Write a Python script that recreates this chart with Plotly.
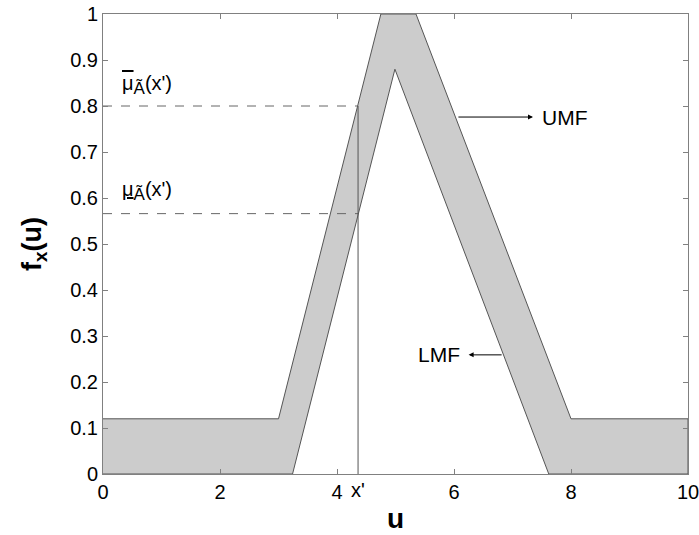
import plotly.graph_objects as go

# Upper membership function (UMF) vertices
umf_x = [0, 3.0, 4.75, 5.35, 8.0, 10]
umf_y = [0.12, 0.12, 1.0, 1.0, 0.12, 0.12]
# Lower membership function (LMF) vertices
lmf_x = [0, 3.24, 4.99, 7.62, 10]
lmf_y = [0, 0, 0.88, 0, 0]

x_prime = 4.36
mu_upper = 0.80
mu_lower = 0.566

x_tickvals = [0, 2, 4, 6, 8, 10]
y_tickvals = [0, 0.1, 0.2, 0.3, 0.4, 0.5, 0.6, 0.7, 0.8, 0.9, 1.0]

FONT = "Liberation Sans, Arial, sans-serif"
EDGE = "#555555"

fig = go.Figure()

poly_x = umf_x + lmf_x[::-1]
poly_y = umf_y + lmf_y[::-1]
fig.add_trace(go.Scatter(x=poly_x, y=poly_y, fill="toself", fillcolor="#cccccc",
                         line=dict(color=EDGE, width=1), mode="lines",
                         hoverinfo="skip", showlegend=False))

# dashed guides
fig.add_trace(go.Scatter(x=[0, x_prime], y=[mu_upper, mu_upper], mode="lines",
                         line=dict(color="#666666", width=1, dash="dash"), showlegend=False))
fig.add_trace(go.Scatter(x=[0, x_prime], y=[mu_lower, mu_lower], mode="lines",
                         line=dict(color="#666666", width=1, dash="dash"), showlegend=False))
# vertical line at x'
fig.add_trace(go.Scatter(x=[x_prime, x_prime], y=[0, mu_upper], mode="lines",
                         line=dict(color="#555555", width=1), showlegend=False))

SUB = "<sub><span style='font-size:17px'>Ã</span></sub>"
annotations = [
    dict(x=0.29, y=0.845, xref="x", yref="y",
         text="<span style='text-decoration:overline'>μ</span>" + SUB + "(x')", showarrow=False,
         xanchor="left", yanchor="middle", font=dict(family=FONT, size=20, color="black")),
    dict(x=0.29, y=0.615, xref="x", yref="y",
         text="<span style='text-decoration:underline'>μ</span>" + SUB + "(x')", showarrow=False,
         xanchor="left", yanchor="middle", font=dict(family=FONT, size=20, color="black")),
    dict(x=7.35, y=0.776, ax=6.05, ay=0.776, xref="x", yref="y", axref="x", ayref="y",
         text="", showarrow=True, arrowhead=2, arrowsize=1, arrowwidth=1, arrowcolor="black"),
    dict(x=7.47, y=0.776, xref="x", yref="y", text="UMF", showarrow=False, xanchor="left",
         yanchor="middle", font=dict(family=FONT, size=21, color="black")),
    dict(x=6.25, y=0.259, ax=6.84, ay=0.259, xref="x", yref="y", axref="x", ayref="y",
         text="", showarrow=True, arrowhead=2, arrowsize=1, arrowwidth=1, arrowcolor="black"),
    dict(x=6.13, y=0.259, xref="x", yref="y", text="LMF", showarrow=False, xanchor="right",
         yanchor="middle", font=dict(family=FONT, size=21, color="black")),
    dict(x=x_prime, y=0, xref="x", yref="paper", text="x'", showarrow=False, xanchor="center",
         yanchor="top", yshift=-3, font=dict(family=FONT, size=20, color="black")),
]

fig.update_layout(
    width=699, height=535,
    margin=dict(l=103, r=11, t=14, b=61, autoexpand=False),
    paper_bgcolor="white", plot_bgcolor="white",
    font=dict(family=FONT, size=20, color="black"),
    annotations=annotations,
    showlegend=False,
)
fig.update_xaxes(range=[0, 10], tickvals=x_tickvals, ticks="inside", ticklen=5,
                 tickcolor="#808080", showline=True, linecolor="#808080", linewidth=1,
                 mirror="ticks", showgrid=False, zeroline=False, automargin=False,
                 tickfont=dict(size=20), ticklabeloverflow="allow",
                 title=dict(text="<b>u</b>", font=dict(family=FONT, size=28), standoff=6))
fig.update_yaxes(range=[0, 1], tickvals=y_tickvals, ticks="inside", ticklen=5,
                 tickcolor="#808080", showline=True, linecolor="#808080", linewidth=1,
                 mirror="ticks", showgrid=False, zeroline=False, automargin=False,
                 tickfont=dict(size=20), ticklabeloverflow="allow",
                 title=dict(text="<b>f<sub>x</sub>(u)</b>", font=dict(family=FONT, size=27), standoff=20))

fig.write_html("out.html")
